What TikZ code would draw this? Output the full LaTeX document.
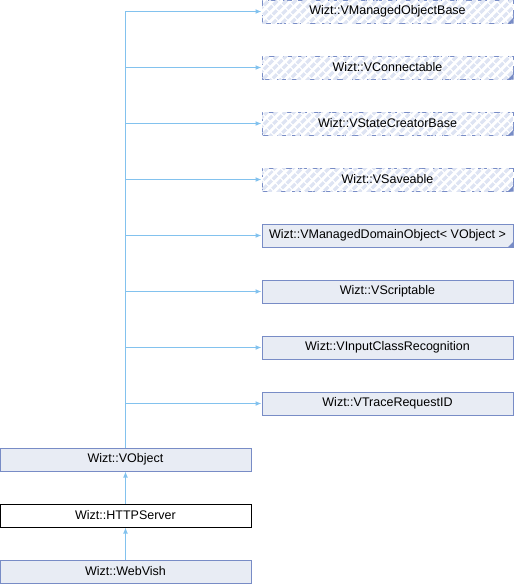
\documentclass[tikz,border=0pt]{standalone}
\usepackage{fontspec}
\setmainfont{Liberation Sans}
\usetikzlibrary{arrows.meta,patterns.meta}
\definecolor{boxfill}{RGB}{232,236,244}
\definecolor{boxline}{RGB}{120,140,198}
\definecolor{hatch}{RGB}{222,228,243}
\definecolor{edgeblue}{RGB}{130,194,238}
\tikzset{
  cls/.style={draw=boxline,fill=boxfill,line width=1pt,minimum width=251pt,
    minimum height=23pt,inner sep=0pt,font=\fontsize{12.5}{14}\selectfont},
  hidden/.style={cls,fill=white,dash pattern=on 9pt off 6pt,
    postaction={pattern={Lines[angle=45,distance=6.5pt,line width=3.5pt]},pattern color=hatch}},
  plain/.style={cls,draw=black,fill=white},
  edge/.style={draw=edgeblue,line width=1.2pt,-{Latex[length=6pt,width=5pt]}}
}
\newcommand{\corner}[1]{\fill[boxline] ([xshift=-6pt]#1.south east) -- (#1.south east) -- ([yshift=6pt]#1.south east) -- cycle;}
\begin{document}
\begin{tikzpicture}[x=1pt,y=-1pt]
\useasboundingbox (0,0) rectangle (514,584);

% base classes
\node[hidden] (mob) at (387.5,11.5) {Wizt::VManagedObjectBase};
\node[hidden] (conn) at (387.5,67.5) {Wizt::VConnectable};
\node[hidden] (scb) at (387.5,123.5) {Wizt::VStateCreatorBase};
\node[hidden] (save) at (387.5,179.5) {Wizt::VSaveable};
\node[cls] (mdo) at (387.5,235.5) {Wizt::VManagedDomainObject< VObject >};
\node[cls] (script) at (387.5,291.5) {Wizt::VScriptable};
\node[cls] (icr) at (387.5,347.5) {Wizt::VInputClassRecognition};
\node[cls] (trace) at (387.5,403.5) {Wizt::VTraceRequestID};
\corner{mob} \corner{conn} \corner{scb} \corner{save} \corner{mdo}

% derived chain
\node[cls] (vobj) at (125.5,459.5) {Wizt::VObject};
\node[plain] (http) at (125.5,515.5) {Wizt::HTTPServer};
\node[cls] (web) at (125.5,571.5) {Wizt::WebVish};

\draw[edge] (vobj.north) |- (mob.west);
\draw[edge] (vobj.north) |- (conn.west);
\draw[edge] (vobj.north) |- (scb.west);
\draw[edge] (vobj.north) |- (save.west);
\draw[edge] (vobj.north) |- (mdo.west);
\draw[edge] (vobj.north) |- (script.west);
\draw[edge] (vobj.north) |- (icr.west);
\draw[edge] (vobj.north) |- (trace.west);
\draw[edge] (http) -- (vobj);
\draw[edge] (web) -- (http);
\end{tikzpicture}
\end{document}
